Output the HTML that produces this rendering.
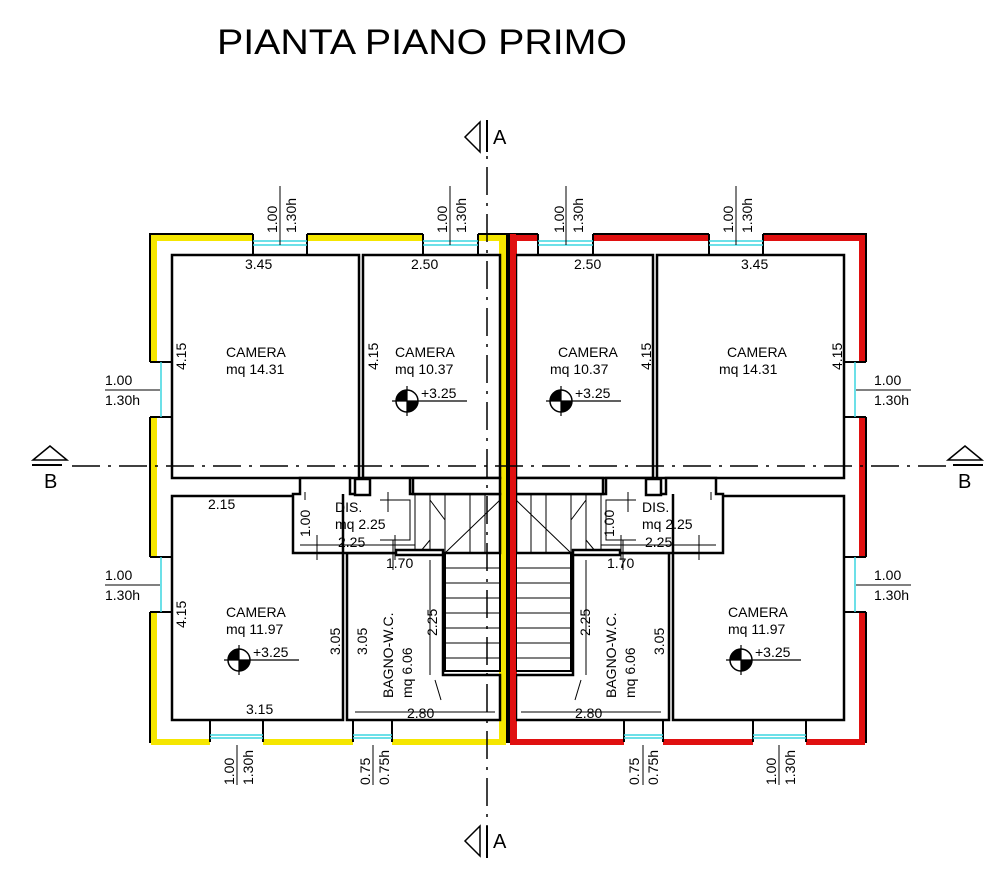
<!DOCTYPE html>
<html><head><meta charset="utf-8"><style>
html,body{margin:0;padding:0;background:#fff;}
svg{display:block;font-family:"Liberation Sans","DejaVu Sans",sans-serif;}
</style></head><body>
<svg width="1004" height="877" viewBox="0 0 1004 877" xmlns="http://www.w3.org/2000/svg">
<defs>
<g id="unit">
  <rect x="150" y="234" width="357" height="508" fill="none" stroke="#000" stroke-width="2"/>
  <path d="M154 742 V238 H503 V742 Z" fill="none" stroke="currentColor" stroke-width="6"/>
  <rect x="499" y="236" width="6" height="504" fill="currentColor"/>
  <g fill="#fff" stroke="none">
    <rect x="253" y="231" width="54" height="24"/>
    <rect x="423" y="231" width="55" height="24"/>
    <rect x="147" y="362" width="25" height="55"/>
    <rect x="147" y="557" width="25" height="55"/>
    <rect x="210" y="720" width="53" height="25"/>
    <rect x="353" y="720" width="39" height="25"/>
  </g>
  <g stroke="#000" stroke-width="2" fill="none">
    <path d="M253 234V255M307 234V255M423 234V255M478 234V255"/>
    <path d="M150 362H172M150 417H172M150 557H172M150 612H172"/>
    <path d="M210 720V742M263 720V742M353 720V742M392 720V742"/>
  </g>
  <g stroke="#3cd6e0" stroke-width="1.5">
    <path d="M253 241H307M253 245H307M423 241H478M423 245H478"/>
    <path d="M161 362V417M161 557V612"/>
    <path d="M210 735H263M210 738H263M353 735H392M353 738H392"/>
  </g>
  <g fill="#fff" stroke="#000" stroke-width="2.5">
    <rect x="172" y="255" width="187" height="223"/>
    <rect x="363" y="255" width="137" height="223"/>
    <rect x="172" y="496" width="171" height="224"/>
    <path d="M347 553H443V675H500V720H347Z"/>
    <path d="M293 494H300V478H350V494H360V478H410V494H500V553H443V553H415V553H293Z" />
  </g>
  <g stroke="#000" stroke-width="1" fill="none">
    <rect x="445" y="553" width="55" height="118" stroke-width="2"/>
    <path d="M445 568H500M445 583H500M445 598H500M445 613H500M445 628H500M445 643H500M445 658H500"/>
    <path d="M415 494V553M430 494V553M445 494V553M470 494V553M485 494V553"/>
    <path d="M445 553L500 500M430 500L445 520M430 540L420 552"/>
    <path d="M380 500H410V540H380"/>
    <path d="M435 680L441 700"/>
  </g>
  <g stroke="#000" stroke-width="2.5" fill="#fff">
    <rect x="355" y="479" width="15" height="16"/>
    <rect x="413" y="478" width="87" height="16"/>
    <rect x="396" y="550" width="47" height="5"/>
    <path d="M343 553V494"/>
  </g>
  <g stroke="#000" stroke-width="1" fill="none">
    <path d="M280 186V245M450 186V245M105 390H160M105 585H160M237 745V785M373 745V785"/>
    <path d="M300 545H415M317 535V560M395 535V560M430 560V675M355 712H495M393 540V570"/>
    <path d="M388 492V512M305 492V500"/>
  </g>
</g>
<g id="lev">
  <circle cx="0" cy="0" r="11" fill="#fff" stroke="#000" stroke-width="1.5"/>
  <path d="M0 0V-11A11 11 0 0 0 -11 0Z M0 0V11A11 11 0 0 0 11 0Z" fill="#000"/>
  <path d="M0 -15V15M-15 0H60" stroke="#000" stroke-width="1.2"/>
</g>
</defs>

<text x="217" y="54" font-size="35" fill="#000" textLength="410" lengthAdjust="spacingAndGlyphs">PIANTA PIANO PRIMO</text>

<use href="#unit" style="color:#f5e600"/>
<use href="#unit" style="color:#e01010" transform="translate(1016,0) scale(-1,1)"/>
<rect x="510" y="234" width="6" height="508" fill="#e01010"/>

<g stroke="#000" stroke-width="1.5" stroke-dasharray="28,8,3,8" fill="none">
  <path d="M487 120V855"/>
  <path d="M72 466H950"/>
</g>
<path d="M487 120V152M487 826V858" stroke="#000" stroke-width="2"/>
<path d="M480 122L465 137L480 152Z" fill="#fff" stroke="#000" stroke-width="1.5"/>
<text x="493" y="144" font-size="20">A</text>
<path d="M480 826L465 841L480 856Z" fill="#fff" stroke="#000" stroke-width="1.5"/>
<text x="493" y="848" font-size="20">A</text>
<path d="M33 460L50 446L67 460Z" fill="#fff" stroke="#000" stroke-width="1.5"/>
<path d="M32 465H62" stroke="#000" stroke-width="2"/>
<text x="44" y="488" font-size="20">B</text>
<path d="M948 460L965 446L982 460Z" fill="#fff" stroke="#000" stroke-width="1.5"/>
<path d="M953 465H983" stroke="#000" stroke-width="2"/>
<text x="958" y="488" font-size="20">B</text>

<use href="#lev" x="407" y="401"/>
<use href="#lev" x="561" y="401"/>
<use href="#lev" x="239" y="660"/>
<use href="#lev" x="741" y="660"/>

<g font-size="14" fill="#000">
  <text x="226" y="357">CAMERA</text><text x="226" y="374">mq 14.31</text>
  <text x="395" y="357">CAMERA</text><text x="395" y="374">mq 10.37</text>
  <text x="558" y="357">CAMERA</text><text x="550" y="374">mq 10.37</text>
  <text x="727" y="357">CAMERA</text><text x="719" y="374">mq 14.31</text>
  <text x="226" y="617">CAMERA</text><text x="226" y="634">mq 11.97</text>
  <text x="728" y="617">CAMERA</text><text x="728" y="634">mq 11.97</text>
  <text x="335" y="512">DIS.</text><text x="335" y="529">mq 2.25</text>
  <text x="642" y="512">DIS.</text><text x="642" y="529">mq 2.25</text>
  <text x="421" y="398">+3.25</text><text x="575" y="398">+3.25</text>
  <text x="253" y="657">+3.25</text><text x="755" y="657">+3.25</text>
  <text x="245" y="269">3.45</text><text x="411" y="269">2.50</text>
  <text x="574" y="269">2.50</text><text x="741" y="269">3.45</text>
  <text x="208" y="509">2.15</text>
  <text x="338" y="547">2.25</text><text x="645" y="547">2.25</text>
  <text x="386" y="568">1.70</text><text x="607" y="568">1.70</text>
  <text x="407" y="718">2.80</text><text x="575" y="718">2.80</text>
  <text x="246" y="714">3.15</text>
  <text x="105" y="385">1.00</text><text x="105" y="405">1.30h</text>
  <text x="105" y="580">1.00</text><text x="105" y="600">1.30h</text>
  <text x="874" y="385">1.00</text><text x="874" y="405">1.30h</text>
  <text x="874" y="580">1.00</text><text x="874" y="600">1.30h</text>
  <g transform="translate(186,370) rotate(-90)"><text>4.15</text></g>
  <g transform="translate(378,370) rotate(-90)"><text>4.15</text></g>
  <g transform="translate(651,370) rotate(-90)"><text>4.15</text></g>
  <g transform="translate(842,370) rotate(-90)"><text>4.15</text></g>
  <g transform="translate(186,628) rotate(-90)"><text>4.15</text></g>
  <g transform="translate(340,655) rotate(-90)"><text>3.05</text></g>
  <g transform="translate(367,655) rotate(-90)"><text>3.05</text></g>
  <g transform="translate(664,655) rotate(-90)"><text>3.05</text></g>
  <g transform="translate(437,636) rotate(-90)"><text>2.25</text></g>
  <g transform="translate(590,636) rotate(-90)"><text>2.25</text></g>
  <g transform="translate(310,537) rotate(-90)"><text>1.00</text></g>
  <g transform="translate(614,537) rotate(-90)"><text>1.00</text></g>
  <g transform="translate(393,698) rotate(-90)"><text>BAGNO-W.C.</text></g>
  <g transform="translate(412,698) rotate(-90)"><text>mq 6.06</text></g>
  <g transform="translate(616,698) rotate(-90)"><text>BAGNO-W.C.</text></g>
  <g transform="translate(635,698) rotate(-90)"><text>mq 6.06</text></g>
  <g transform="translate(277,233) rotate(-90)"><text>1.00</text></g>
  <g transform="translate(296,233) rotate(-90)"><text>1.30h</text></g>
  <g transform="translate(447,233) rotate(-90)"><text>1.00</text></g>
  <g transform="translate(466,233) rotate(-90)"><text>1.30h</text></g>
  <g transform="translate(564,233) rotate(-90)"><text>1.00</text></g>
  <g transform="translate(583,233) rotate(-90)"><text>1.30h</text></g>
  <g transform="translate(733,233) rotate(-90)"><text>1.00</text></g>
  <g transform="translate(752,233) rotate(-90)"><text>1.30h</text></g>
  <g transform="translate(234,785) rotate(-90)"><text>1.00</text></g>
  <g transform="translate(253,785) rotate(-90)"><text>1.30h</text></g>
  <g transform="translate(370,785) rotate(-90)"><text>0.75</text></g>
  <g transform="translate(389,785) rotate(-90)"><text>0.75h</text></g>
  <g transform="translate(639,785) rotate(-90)"><text>0.75</text></g>
  <g transform="translate(658,785) rotate(-90)"><text>0.75h</text></g>
  <g transform="translate(776,785) rotate(-90)"><text>1.00</text></g>
  <g transform="translate(795,785) rotate(-90)"><text>1.30h</text></g>
</g>
</svg>
</body></html>
